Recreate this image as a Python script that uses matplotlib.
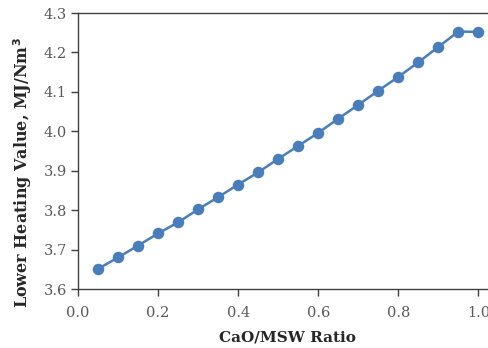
import matplotlib.pyplot as plt

# CaO/MSW ratio vs. lower heating value of the syngas
cao_ratio = [0.05, 0.10, 0.15, 0.20, 0.25, 0.30, 0.35, 0.40, 0.45, 0.50,
             0.55, 0.60, 0.65, 0.70, 0.75, 0.80, 0.85, 0.90, 0.95, 1.00]
lhv = [3.651, 3.680, 3.710, 3.741, 3.769, 3.802, 3.833, 3.865, 3.896, 3.930,
       3.963, 3.996, 4.032, 4.067, 4.103, 4.138, 4.175, 4.214, 4.253, 4.252]

x_ticks = [0.0, 0.2, 0.4, 0.6, 0.8, 1.0]
y_ticks = [3.6, 3.7, 3.8, 3.9, 4.0, 4.1, 4.2, 4.3]

plt.rcParams['font.family'] = ['DejaVu Serif']

fig = plt.figure(figsize=(4.89, 3.48), dpi=100)
ax = fig.add_axes([78 / 489, 1 - 289 / 348, 1 - 78 / 489, (289 - 13) / 348])

ax.plot(cao_ratio, lhv, color='#4a7ebb', linewidth=1.8, marker='o',
        markersize=8.3, markeredgewidth=0, clip_on=False)

ax.set_xlim(0, 1.0265)
ax.set_ylim(3.6, 4.3)
ax.set_xticks(x_ticks)
ax.set_yticks(y_ticks)
ax.set_xticklabels([f'{v:.1f}' for v in x_ticks])
ax.set_yticklabels([f'{v:.1f}' for v in y_ticks])

for side in ['left', 'bottom', 'top']:
    ax.spines[side].set_color('#404040')
    ax.spines[side].set_linewidth(1.0)
ax.spines['right'].set_visible(False)

ax.tick_params(axis='both', direction='out', length=5, width=1.0,
               color='#404040', labelcolor='#595959', labelsize=10.5, pad=3)
ax.tick_params(axis='x', pad=7)

ax.set_xlabel('CaO/MSW Ratio', fontsize=11, fontweight='bold', color='#262626')
ax.set_ylabel('Lower Heating Value, MJ/Nm$^\\mathbf{3}$', fontsize=11.5,
              fontweight='bold', color='#262626')
ax.xaxis.set_label_coords(0.51, -0.15)
ax.yaxis.set_label_coords(-0.108, 0.42)

fig.savefig('out.png', dpi=100)
